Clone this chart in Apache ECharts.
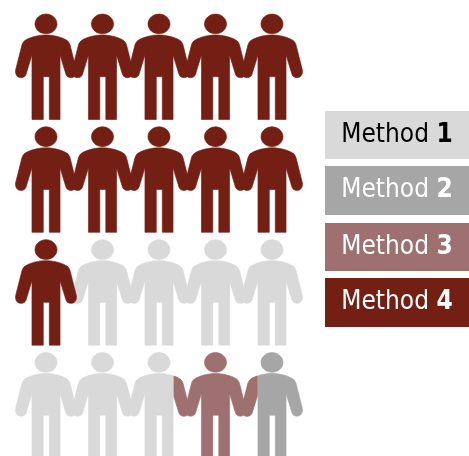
<!DOCTYPE html>
<html><head><meta charset="utf-8">
<style>html,body{margin:0;padding:0;background:#fff;overflow:hidden}#c{width:469px;height:456px}</style>
<script src="https://cdn.jsdelivr.net/npm/echarts@6/dist/echarts.min.js"></script>
</head><body><div id="c"></div>
<script>
const methodNames = ['Method', 'Method', 'Method', 'Method'];
const methodNumbers = ['1', '2', '3', '4'];
const colors = ['#D9D9D9', '#A6A6A6', '#9E7070', '#741F14'];
const textColors = ['#000000', '#FFFFFF', '#FFFFFF', '#FFFFFF'];
// [column, row] of every person, by method
const method1 = [[1,2],[2,2],[3,2],[4,2],[0,3],[1,3],[2,3]];
const method2 = [[4,3]];
const method3 = [[3,3]];
const method4 = [[0,0],[1,0],[2,0],[3,0],[4,0],[0,1],[1,1],[2,1],[3,1],[4,1],[0,2]];
const method3RightArmOf = [[2,3]];
const method3LeftArmOf = [[4,3]];
const people = [method1, method2, method3, method4];
const legendTops = [111, 166, 223, 278];
const legendHeights = [48, 49, 48, 49];

const person = 'path://M46 14C52 14 57 18.5 57 24C57 29.5 52 33.8 46 33.8C40 33.8 35 29.5 35 24C35 18.5 40 14 46 14Z' +
 'M46 35C52 35 61 36.5 67 40.5C68.5 41.5 69.3 43 70 45L76.3 70C77 74.5 74.5 77.7 71 77.7C68.5 77.7 66.5 76.5 65.8 74L60 55L60 119.5L49.3 119.5L49.3 76.7L43.3 76.7L43.3 119.5L32 119.5L32 55L26.2 74C25.5 76.5 23.5 77.7 21 77.7C17.5 77.7 15 74.5 15.7 70L22 45C22.7 43 23.5 41.5 25 40.5C31 36.5 40 35 46 35Z';
const rightArm = 'path://M61 37.6C63 38.3 65.2 39.3 67 40.5C68.5 41.5 69.3 43 70 45L76.3 70C77 74.5 74.5 77.7 71 77.7C68.5 77.7 66.5 76.5 65.8 74L61 58.3Z';
const leftArm = 'path://M31 37.6C29 38.3 26.8 39.3 25 40.5C23.5 41.5 22.7 43 22 45L15.7 70C15 74.5 17.5 77.7 21 77.7C23.5 77.7 25.5 76.5 26.2 74L31 58.3Z';

const chart = echarts.init(document.getElementById('c'), null, {renderer: 'canvas', devicePixelRatio: 1});
const font = '"DejaVu Sans Condensed","DejaVu Sans",sans-serif';
const base = {type: 'scatter', symbolKeepAspect: false, clip: false, silent: true};
const style = c => ({color: c, opacity: 1, borderColor: c, borderWidth: 0.6});
chart.setOption({
  animation: false,
  backgroundColor: '#fff',
  grid: {left: 46, top: 66.75, width: 226, height: 338.5},
  xAxis: {type: 'value', min: 0, max: 4, show: false},
  yAxis: {type: 'value', min: 0, max: 3, inverse: true, show: false},
  series: people.map((d, i) => ({
    ...base, name: methodNames[i] + ' ' + methodNumbers[i], data: d,
    symbol: person, symbolSize: [61, 105.5], itemStyle: style(colors[i]), z: 2 + i
  })).concat([
    {...base, name: 'arm right', data: method3RightArmOf, symbol: rightArm, symbolSize: [15.5, 40.1], symbolOffset: [22.75, -9.1], itemStyle: style(colors[2]), z: 8},
    {...base, name: 'arm left', data: method3LeftArmOf, symbol: leftArm, symbolSize: [15.5, 40.1], symbolOffset: [-22.75, -9.1], itemStyle: style(colors[2]), z: 8}
  ]),
  graphic: methodNames.map((n, i) => ({
    type: 'rect', left: 325, top: legendTops[i], silent: true,
    shape: {width: 144, height: legendHeights[i]},
    style: {fill: colors[i]},
    textContent: {
      style: {
        text: '{a|' + n + ' }{b|' + methodNumbers[i] + '}',
        rich: {
          a: {fontFamily: font, fontSize: 26, fill: textColors[i], color: textColors[i]},
          b: {fontFamily: font, fontSize: 26, fontWeight: 'bold', fill: textColors[i], color: textColors[i]}
        }
      }
    },
    textConfig: {position: 'inside'}
  }))
});
</script></body></html>
